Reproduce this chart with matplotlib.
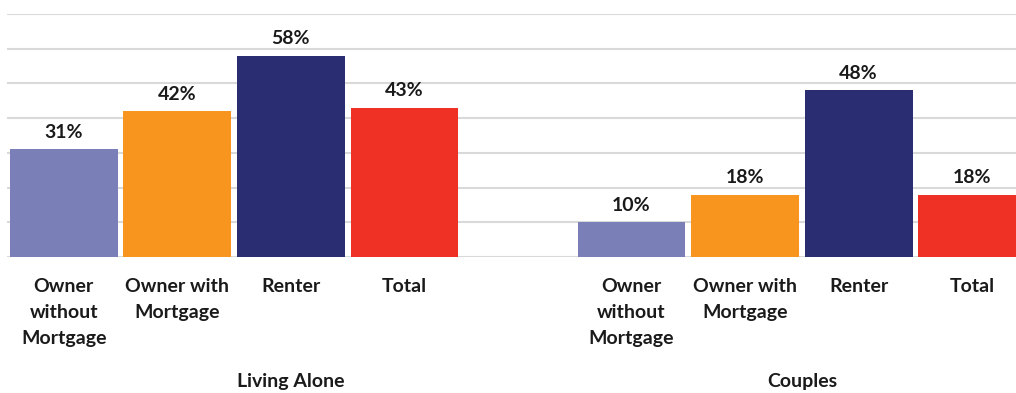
import matplotlib
matplotlib.use("Agg")
import matplotlib.pyplot as plt
from matplotlib.transforms import blended_transform_factory

plt.rcParams['font.family'] = ['Lato', 'DejaVu Sans']

categories = ["Owner\nwithout\nMortgage", "Owner with\nMortgage", "Renter", "Total"]
groups = ["Living Alone", "Couples"]
living_alone = [31, 42, 58, 43]
couples = [10, 18, 48, 18]
colors = ["#7B7FB8", "#F7951F", "#2B2D73", "#EE3124"]

fig = plt.figure(figsize=(10.16, 3.93), dpi=100)
ax = fig.add_axes([7/1016, 136/393, 1022/1016, 243/393])

pos_la = [0, 1, 2, 3]
pos_cp = [5, 6, 7, 8]
for pos, vals in ((pos_la, living_alone), (pos_cp, couples)):
    bars = ax.bar(pos, vals, width=0.95, color=colors, zorder=3)
    for b, v in zip(bars, vals):
        ax.annotate(f"{v}%", (b.get_x() + b.get_width()/2, v), xytext=(0, 6),
                    textcoords="offset points", ha="center", va="bottom",
                    fontsize=14, fontweight="bold", color="#1a1a1a")

ax.set_xlim(-0.5, 8.5)
ax.set_ylim(0, 70)
ax.set_yticks(range(0, 71, 10))
ax.yaxis.grid(True, color="#D9D9D9", linewidth=1.5, zorder=0)
ax.tick_params(axis="y", left=False, labelleft=False)
for s in ax.spines.values():
    s.set_visible(False)

ax.set_xticks(pos_la + pos_cp)
ax.set_xticklabels(categories * 2, fontsize=14, fontweight="bold",
                   color="#1a1a1a", linespacing=1.65)
ax.tick_params(axis="x", length=0, pad=15)

trans = blended_transform_factory(ax.transData, fig.transFigure)
ax.text(2, 1 - 381/393, groups[0], transform=trans, ha="center", va="center",
        fontsize=14, fontweight="bold", color="#1a1a1a")
ax.text(6.5, 1 - 381/393, groups[1], transform=trans, ha="center", va="center",
        fontsize=14, fontweight="bold", color="#1a1a1a")

fig.savefig("out.png", dpi=100)
